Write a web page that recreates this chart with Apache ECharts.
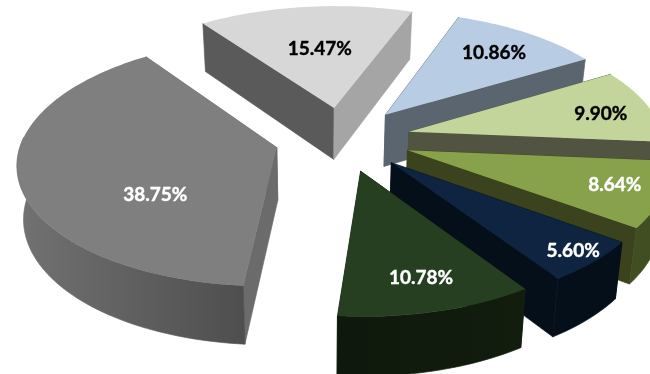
<!DOCTYPE html>
<html>
<head>
<meta charset="utf-8">
<style>html,body{margin:0;padding:0;background:#fff}#chart{width:650px;height:374px}</style>
<script src="https://cdn.jsdelivr.net/npm/echarts@6/dist/echarts.min.js"></script>
</head>
<body>
<div id="chart"></div>
<script>
// Slice shares in percent, clockwise from the upper-left boundary.
const shares = [15.47, 10.86, 9.90, 8.64, 5.60, 10.78, 38.75];

// Colours per slice: top surface, outer wall, cut wall at the start and at the end of the sweep.
const topColors = ['#d7d7d7', '#b8cce4', '#c3d59b', '#87a24a', '#0f2440', '#263f21', '#7f7f7f'];
const rimLeft = ['#8a8a8a', '#6f8199', '#7c8a5c', '#414e21', '#050f19', '#0f180c', '#727272'];
const rimRight = ['#8a8a8a', '#6f8199', '#7c8a5c', '#414e21', '#050f19', '#121d0e', '#4e4e4e'];
const startWall = ['#5a5a5a', '#5a6570', '#505440', '#3a421e', '#050f19', '#111c0e', '#6b6b6b'];
const endWall = ['#a5a5a5', '#5a6570', '#505440', '#3a421e', '#050f19', '#111c0e', '#6b6b6b'];

// Value label styling and placement inside each slice (bearing in degrees, reach as a share of the radius).
const labelColors = ['#000', '#000', '#000', '#fff', '#fff', '#fff', '#fff'];
const labelBearing = [-96.5, -50.5, -11.4, 19.5, 45.6, 75, 140.2];
const labelReach = [0.56, 0.748, 0.792, 0.817, 0.9, 0.785, 0.574];

// Tilted-disc projection: unit-radius disc coordinates to the page.
const centre = [343, 139];
const radiusX = 255;
const radiusY = 120.5;
const perspective = 0.116;
const explode = 0.267;
const firstAngle = -125.6;

const rad = d => d * Math.PI / 180;
const total = shares.reduce((a, b) => a + b, 0);

function project(x, y) {
  const s = 1 / (1 - perspective * y);
  return [centre[0] + x * radiusX * s, centre[1] + y * radiusY * s];
}
// Lower edge of a point on the top surface: walls converge slightly downward.
function below(p) {
  return [p[0] - (p[0] - 320) * 0.022, p[1] + 47 + p[1] * 0.04];
}

function renderSlice(params, api) {
  const i = params.dataIndex;
  const share = api.value(0);
  const before = shares.slice(0, i).reduce((a, b) => a + b, 0);
  const a0 = firstAngle + before / total * 360;
  const a1 = a0 + share / total * 360;
  const mid = rad((a0 + a1) / 2);
  const ox = explode * Math.cos(mid);
  const oy = explode * Math.sin(mid);
  const at = (deg, reach) => project(ox + reach * Math.cos(rad(deg)), oy + reach * Math.sin(rad(deg)));
  const apex = project(ox, oy);
  const arc = [];
  const front = [];
  const steps = Math.ceil((a1 - a0) / 1.5);
  for (let k = 0; k <= steps; k++) {
    const d = a0 + (a1 - a0) * k / steps;
    const p = at(d, 1);
    arc.push(p);
    if (Math.sin(rad(d)) >= -0.1) front.push(p);
  }
  const first = arc[0];
  const last = arc[arc.length - 1];
  const poly = (points, fill, edge) => ({
    type: 'polygon',
    shape: { points },
    style: edge ? { fill, stroke: fill, lineWidth: 0.7 } : { fill }
  });
  const lab = at(labelBearing[i], labelReach[i]);
  const children = [
    poly([apex, first, below(first), below(apex)], startWall[i], true),
    poly([apex, last, below(last), below(apex)], endWall[i], true)
  ];
  if (front.length > 1) {
    children.push(poly(front.concat(front.map(below).reverse()), {
      type: 'linear', x: 0, y: 0, x2: 1, y2: 0,
      colorStops: [{ offset: 0, color: rimLeft[i] }, { offset: 1, color: rimRight[i] }]
    }, true));
  }
  children.push(poly([apex].concat(arc), topColors[i]));
  children.push({
    type: 'text',
    z2: 10,
    style: {
      text: share.toFixed(2) + '%',
      x: lab[0], y: lab[1],
      fill: labelColors[i],
      stroke: labelColors[i],
      lineWidth: 0.4,
      font: 'bold 19px Lato, "Open Sans", sans-serif',
      align: 'center', verticalAlign: 'middle'
    }
  });
  return { type: 'group', children };
}

const chart = echarts.init(document.getElementById('chart'), null, { renderer: 'canvas' });
chart.setOption({
  animation: false,
  backgroundColor: '#fff',
  series: [{
    type: 'custom',
    coordinateSystem: 'none',
    silent: true,
    renderItem: renderSlice,
    data: shares.map(v => [v])
  }]
});
</script>
</body>
</html>
